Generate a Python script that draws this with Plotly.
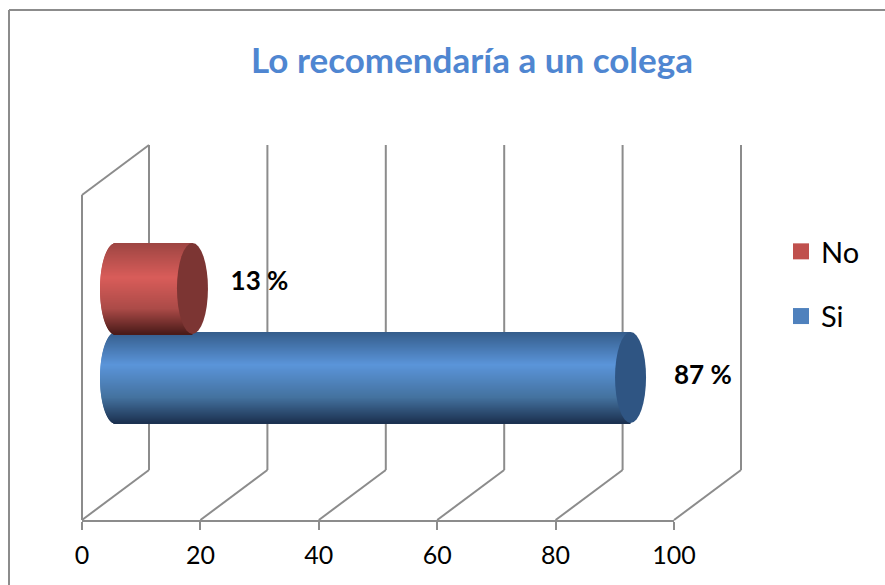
import plotly.graph_objects as go

TITLE = "Lo recomendaría a un colega"
SERIES = ["No", "Si"]
VALUES = [13, 87]
LABELS = ["13 %", "87 %"]
TICKS = [0, 20, 40, 60, 80, 100]

FONT = "Lato"
GRID = "#8c8c8c"
PX_X = 5.92                # pixels per x unit
DEPTH_X = 67 / PX_X        # wall depth in x units
DEPTH_Y = 50               # wall depth in y units (one y unit is one pixel)
WALL_H = 325
RANGE_Y = WALL_H + DEPTH_Y
BAR_BASE = 33.5 / PX_X
CAP_A = 15.5 / PX_X
BAR_H = 91
CENTER = {"No": 231.5, "Si": 142.5}
LABEL_GAP = [12.1, 13.0]
LABEL_Y = [236.5, 143]
LEGEND_COL = {"No": "#c0504d", "Si": "#4f81bd"}
CAP_COL = {"No": "#7c3533", "Si": "#2f5583"}
STOPS = {
    "No": [(0, "#9e4643"), (.38, "#d95d5a"), (.72, "#ac4b48"), (1, "#4a1b19")],
    "Si": [(0, "#355d8b"), (.36, "#5b95da"), (.72, "#44729f"), (1, "#1c3150")],
}


def hex_rgb(c):
    return [int(c[i:i + 2], 16) for i in (1, 3, 5)]


def shade(stops, t):
    for (t0, c0), (t1, c1) in zip(stops, stops[1:]):
        if t <= t1:
            f = (t - t0) / (t1 - t0)
            a, b = hex_rgb(c0), hex_rgb(c1)
            return "rgb(%d,%d,%d)" % tuple(a[i] + (b[i] - a[i]) * f for i in range(3))
    return stops[-1][1]


def wall_line(x0, y0, x1, y1):
    # paper references, so that walls past the axis range are not clipped
    return dict(type="line", xref="paper", yref="paper",
                x0=x0 / 100, y0=y0 / RANGE_Y, x1=x1 / 100, y1=y1 / RANGE_Y, layer="below",
                line=dict(color=GRID, width=2))


fig = go.Figure()
shapes = []

# Chart walls: left wall, back-wall verticals, floor diagonals (all under the bars)
shapes.append(wall_line(0, 0, 0, WALL_H))
shapes.append(wall_line(0, WALL_H, DEPTH_X, RANGE_Y))
for t in TICKS:
    shapes.append(wall_line(t, 0, t + DEPTH_X, DEPTH_Y))
    shapes.append(wall_line(t + DEPTH_X, DEPTH_Y, t + DEPTH_X, RANGE_Y))

# Cylinders built from 1-unit-high strips with a rounded near end
for name in ["Si", "No"]:
    value = VALUES[SERIES.index(name)]
    ys, xs, bases, cols = [], [], [], []
    for k in range(BAR_H):
        t = (k + .5) / BAR_H
        s = (1 - (2 * t - 1) ** 2) ** .5
        ys.append(CENTER[name] + BAR_H / 2 - k - .5)
        bases.append(BAR_BASE - CAP_A * s)
        xs.append(value + CAP_A * s)
        cols.append(shade(STOPS[name], t))
    fig.add_trace(go.Bar(orientation="h", x=xs, y=ys, base=bases, width=1.05, showlegend=False,
                         marker=dict(color=cols, line=dict(width=0)), cliponaxis=False,
                         name=name, hoverinfo="skip"))
    shapes.append(dict(type="circle", xref="x", yref="y",
                       x0=value + BAR_BASE - CAP_A, x1=value + BAR_BASE + CAP_A,
                       y0=CENTER[name] - BAR_H / 2, y1=CENTER[name] + BAR_H / 2,
                       fillcolor=CAP_COL[name], line=dict(width=0), layer="above"))

# Value labels
fig.add_trace(go.Scatter(x=[v + g for v, g in zip(VALUES, LABEL_GAP)], y=LABEL_Y, mode="text",
                         text=["<b>%s</b>" % l for l in LABELS], textposition="middle right",
                         textfont=dict(family=FONT, size=26, color="#000000"),
                         showlegend=False, cliponaxis=False, hoverinfo="skip"))

# Legend entries
for name in SERIES:
    fig.add_trace(go.Scatter(x=[None], y=[None], mode="markers", name=name, legendgroup=name,
                             marker=dict(symbol="square", size=16, color=LEGEND_COL[name])))

# Chart frame: top and left edges only
shapes.append(dict(type="line", xref="paper", yref="paper", x0=-73 / 592, x1=803 / 592,
                   y0=510 / 375, y1=510 / 375, line=dict(color=GRID, width=2)))
shapes.append(dict(type="line", xref="paper", yref="paper", x0=-73 / 592, x1=-73 / 592,
                   y0=-65 / 375, y1=510 / 375, line=dict(color=GRID, width=2)))

fig.update_layout(
    width=885, height=585, autosize=False,
    margin=dict(l=82, r=211, t=145, b=65),
    paper_bgcolor="#ffffff", plot_bgcolor="rgba(0,0,0,0)",
    barmode="overlay", shapes=shapes,
    title=dict(text="<b>%s</b>" % TITLE, x=472 / 885, xanchor="center", y=1 - 61 / 585, yanchor="middle",
               font=dict(family=FONT, size=35, color="#4f86d1")),
    xaxis=dict(range=[0, 100], tickvals=TICKS, ticks="outside", ticklen=8, tickwidth=2, tickcolor=GRID,
               showline=True, linecolor=GRID, linewidth=2, showgrid=False, zeroline=False,
               ticklabelstandoff=4, tickfont=dict(family=FONT, size=25, color="#000000")),
    yaxis=dict(range=[0, RANGE_Y], visible=False),
    legend=dict(x=(781 - 82) / 592, xanchor="left", y=(520 - 226) / 375, yanchor="top",
                tracegroupgap=24, font=dict(family=FONT, size=29, color="#000000"),
                bgcolor="rgba(0,0,0,0)"),
    showlegend=True,
)
fig.write_html("out.html", post_script="document.body.style.margin='0';",
               config={"displayModeBar": False})
